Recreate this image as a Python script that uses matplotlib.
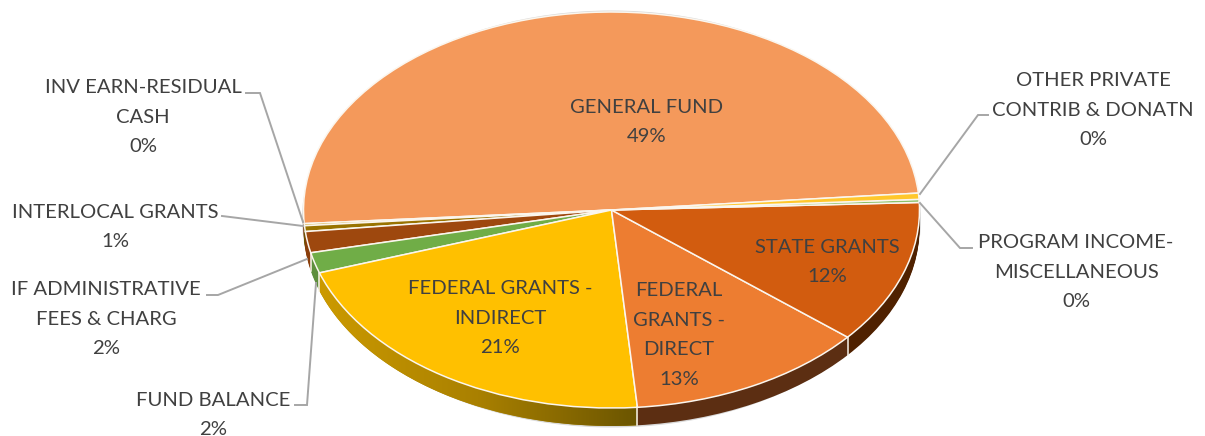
import numpy as np
import matplotlib
matplotlib.use("Agg")
import matplotlib.pyplot as plt
from matplotlib.patches import Ellipse, PathPatch
from matplotlib.path import Path
from matplotlib.colors import LinearSegmentedColormap

plt.rcParams["font.family"] = ["Lato", "DejaVu Sans"]

W, H = 1205, 436
CX, CY, RX, RY = 611.5, 210, 308, 198
DEPTH = 18

names = ["GENERAL FUND", "INV EARN-RESIDUAL\nCASH", "INTERLOCAL GRANTS",
         "IF ADMINISTRATIVE\nFEES & CHARG", "FUND BALANCE",
         "FEDERAL GRANTS -\nINDIRECT", "FEDERAL\nGRANTS -\nDIRECT",
         "STATE GRANTS", "PROGRAM INCOME-\nMISCELLANEOUS",
         "OTHER PRIVATE\nCONTRIB & DONATN"]
values = [49.5, 0.17, 0.47, 1.72, 1.67, 21.1, 12.5, 11.65, 0.25, 0.5]
pct_labels = ["49%", "0%", "1%", "2%", "2%", "21%", "13%", "12%", "0%", "0%"]

top_colors = ["#F4995B", "#C9A227", "#997300", "#9E480E", "#70AD47",
              "#FFC000", "#ED7D31", "#D25C0F", "#8CC168", "#FFC72C"]
side_colors = ["#8F5A35", "#7A5C00", "#6B5200", "#8A3E0B", "#5E8F3C",
               "#B08A00", "#5C2E12", "#4F2100", "#4F7A30", "#8F7000"]

label_x = [647, 143, 115, 106, 213, 500, 679, 827, 1076, 1093]
label_y = [122, 117, 227, 319, 415, 318, 335, 262, 272, 110]

leader_x = [None, [246, 260, 303], [222, 303], [207, 218, 307], [295, 307, 316],
            None, None, None, [972, 960, 920], [988, 978, 920]]
leader_y = [None, [93, 93, 222], [216, 226], [295, 295, 259], [405, 405, 283],
            None, None, None, [248, 248, 203], [115, 115, 194]]

START_ANGLE = 4.9

fig = plt.figure(figsize=(W / 100, H / 100), dpi=100, facecolor="white")

# pie axes: the unit circle maps to the tilted ellipse
ax = fig.add_axes([0, 0, 1, 1])
over = fig.add_axes([0, 0, 1, 1])
over.set_xlim(0, W)
over.set_ylim(H, 0)
over.axis("off")
over.patch.set_alpha(0)

xlim = (-CX / RX, (W - CX) / RX)
ylim = ((CY - H) / RY, CY / RY)

# soft rim around the whole disc
ax.add_patch(Ellipse((0, -DEPTH / 2 / RY), 2 * (RX + 1.5) / RX, 2 + (DEPTH + 3) / RY,
                     facecolor="#D9D9D9", edgecolor="none", zorder=0))

# side wall: stack of darker pies
for d in np.arange(DEPTH, 0, -1):
    ax.pie(values, colors=side_colors, startangle=START_ANGLE, counterclock=True,
           center=(0, -d / RY), radius=1, frame=True, normalize=True,
           wedgeprops={"linewidth": 0, "zorder": 1})

wedges, _ = ax.pie(values, colors=top_colors, startangle=START_ANGLE, counterclock=True,
                   center=(0, 0), radius=1, frame=True, normalize=True,
                   wedgeprops={"linewidth": 1.1, "edgecolor": "#FBF6EE", "zorder": 3})
ax.set_xticks([])
ax.set_yticks([])
ax.set_frame_on(False)
ax.set_zorder(1)
over.set_zorder(2)


def rim(theta):
    t = np.radians(theta)
    return CX + RX * np.cos(t), CY - RY * np.sin(t)


# gradient on the side of the indirect slice, bright at the left
w = wedges[5]
ts = np.linspace(w.theta1, w.theta2, 80)
px, py = rim(ts)
poly = np.column_stack([np.r_[px, px[::-1]], np.r_[py, py[::-1] + DEPTH]])
clip = PathPatch(Path(np.column_stack([(poly[:, 0] - CX) / RX, (CY - poly[:, 1]) / RY])),
                 transform=ax.transData, facecolor="none", edgecolor="none")
ax.add_patch(clip)
cmap = LinearSegmentedColormap.from_list("side", ["#CC9A00", "#A98000", "#6B5500"])
img = ax.imshow(np.linspace(0, 1, 256)[None, :], cmap=cmap, aspect="auto", zorder=2,
                extent=((px.min() - CX) / RX, (px.max() - CX) / RX,
                        (CY - py.max() - DEPTH) / RY, (CY - py.min()) / RY))
img.set_clip_path(clip)
ax.set_aspect("auto")
ax.set_xlim(*xlim)
ax.set_ylim(*ylim)

# white seams on the side wall where slices meet
for w in wedges[3:8]:
    x0, y0 = rim(w.theta2)
    if y0 > CY:
        over.plot([x0, x0], [y0, y0 + DEPTH], color="#FBF6EE", lw=1.1, zorder=1)

# leader lines
for lx, ly in zip(leader_x, leader_y):
    if lx is not None:
        over.plot(lx, ly, color="#A6A6A6", lw=1.4, solid_joinstyle="miter", zorder=2)

for name, pct, x, y in zip(names, pct_labels, label_x, label_y):
    over.text(x, y, name + "\n" + pct, ha="center", va="center", fontsize=14.6,
              color="#404040", linespacing=1.9, zorder=3)

fig.savefig("out.png", dpi=100, facecolor="white")
